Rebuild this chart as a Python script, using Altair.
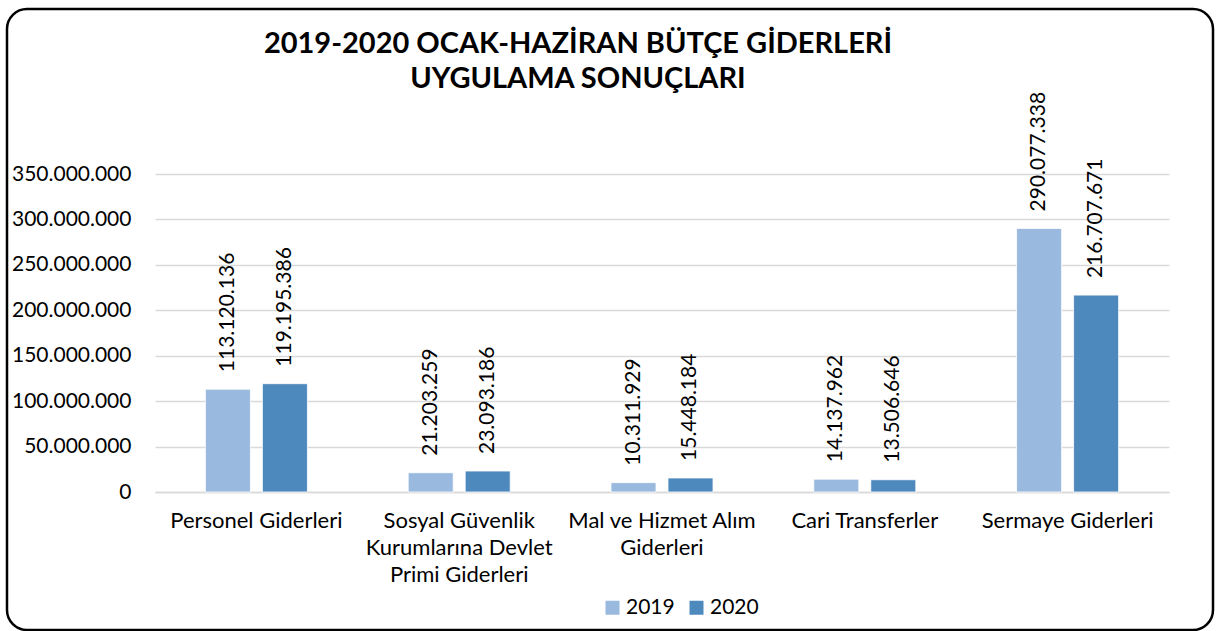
import altair as alt
import pandas as pd

# ---- data ----
categories = [
    "Personel Giderleri",
    "Sosyal Güvenlik\nKurumlarına Devlet\nPrimi Giderleri",
    "Mal ve Hizmet Alım\nGiderleri",
    "Cari Transferler",
    "Sermaye Giderleri",
]
years = ["2019", "2020"]
values_2019 = [113120136, 21203259, 10311929, 14137962, 290077338]
values_2020 = [119195386, 23093186, 15448184, 13506646, 216707671]
y_ticks = [0, 50000000, 100000000, 150000000, 200000000, 250000000, 300000000, 350000000]
title_lines = ["2019-2020 OCAK-HAZİRAN BÜTÇE GİDERLERİ", "UYGULAMA SONUÇLARI"]
colors = ["#99B9DF", "#4E89BE"]

rows = []
for c, a, b in zip(categories, values_2019, values_2020):
    rows.append({"cat": c, "year": "2019", "value": a})
    rows.append({"cat": c, "year": "2020", "value": b})
df = pd.DataFrame(rows)

FONT = "Lato"
W, H = 1014, 318
PAD_L, PAD_T = 155, 174

fmt_expr = "replace(replace(format({v}, ','), ',', '.'), ',', '.')"

base = alt.Chart(df).transform_calculate(
    label=fmt_expr.format(v="datum.value")
).encode(
    x=alt.X(
        "cat:N",
        sort=categories,
        scale=alt.Scale(paddingInner=0, paddingOuter=0),
        axis=alt.Axis(
            title=None,
            labelAngle=0,
            labelExpr="split(datum.value, '\\n')",
            labelFont=FONT,
            labelFontSize=22,
            labelColor="#000000",
            labelPadding=18,
            labelLineHeight=27,
            labelBaseline="top",
            labelLimit=400,
            ticks=False,
            domain=True,
            domainColor="#D9D9D9",
            domainWidth=1.5,
        ),
    ),
    xOffset=alt.XOffset(
        "year:N", sort=years, scale=alt.Scale(paddingInner=0.21, paddingOuter=0.884)
    ),
)

bars = base.mark_bar(stroke="#FFFFFF", strokeWidth=0.8).encode(
    y=alt.Y(
        "value:Q",
        scale=alt.Scale(domain=[0, 350000000], nice=False),
        axis=alt.Axis(
            title=None,
            values=y_ticks,
            labelExpr=fmt_expr.format(v="datum.value"),
            labelFont=FONT,
            labelFontSize=21,
            labelColor="#000000",
            labelPadding=24,
            labelLimit=400,
            ticks=False,
            domain=False,
            grid=True,
            gridColor="#D9D9D9",
            gridWidth=1.5,
        ),
    ),
    color=alt.Color(
        "year:N",
        sort=years,
        scale=alt.Scale(domain=years, range=colors),
        legend=alt.Legend(
            title=None,
            orient="none",
            legendX=447,
            legendY=423,
            direction="horizontal",
            symbolType="square",
            symbolSize=196,
            symbolStrokeWidth=0,
            labelFont=FONT,
            labelFontSize=21,
            labelColor="#000000",
            labelOffset=3,
            columnPadding=11,
            padding=0,
        ),
    ),
)

labels = base.mark_text(
    angle=270, align="left", baseline="middle", dx=17,
    font=FONT, fontSize=21, color="#000000",
).encode(y=alt.Y("value:Q"), text="label:N")

one = pd.DataFrame({"k": [0]})
title = alt.Chart(one).mark_text(
    font=FONT, fontSize=29, fontWeight="bold", align="center",
    baseline="alphabetic", lineHeight=35, color="#000000",
).encode(
    x=alt.value(578 - PAD_L), y=alt.value(53 - PAD_T), text=alt.value(title_lines)
)

frame = alt.Chart(one).mark_rect(
    fillOpacity=0, fill="#FFFFFF", stroke="#000000", strokeWidth=2.5, cornerRadius=20,
).encode(
    x=alt.value(7 - PAD_L), x2=alt.value(1213 - PAD_L),
    y=alt.value(9 - PAD_T), y2=alt.value(630 - PAD_T),
)

chart = alt.layer(bars, labels, title, frame).properties(
    width=W, height=H,
    autosize=alt.AutoSizeParams(type="none"),
    padding={"left": PAD_L, "top": PAD_T, "right": 1217 - PAD_L - W, "bottom": 631 - PAD_T - H},
    background="#FFFFFF",
).configure_view(stroke=None)

chart.save("out.html", embed_options={"renderer": "svg", "actions": False})
